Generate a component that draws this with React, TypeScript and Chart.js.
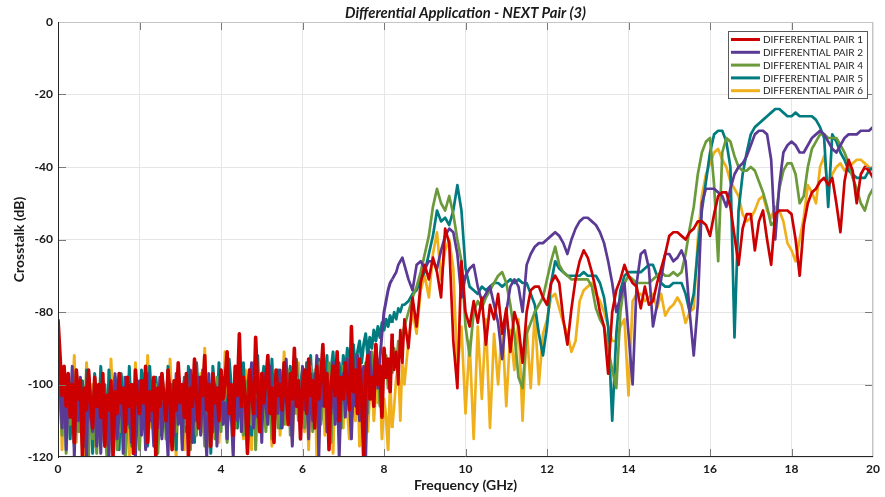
import { useEffect, useRef } from "react";
import { Chart, registerables } from "chart.js";

Chart.register(...registerables);

// ---- Data ----
const titleText = "Differential Application - NEXT Pair (3)";
const xTitle = "Frequency (GHz)";
const yTitle = "Crosstalk (dB)";
const xTickValues = [0, 2, 4, 6, 8, 10, 12, 14, 16, 18, 20];
const yTickValues = [-120, -100, -80, -60, -40, -20, 0];

const seriesNames = [
  "DIFFERENTIAL PAIR 1",
  "DIFFERENTIAL PAIR 2",
  "DIFFERENTIAL PAIR 4",
  "DIFFERENTIAL PAIR 5",
  "DIFFERENTIAL PAIR 6",
];
const seriesColors = ["#CC0000", "#5B3A96", "#6B9A3B", "#007B7F", "#F0B01C"];

// sampling grids (GHz): 0.00..8.45 every 0.05, 8.5..20.0 every 0.1
const lowStart = 0, lowStep = 0.05, lowCount = 170;
const highStart = 8.5, highStep = 0.1, highCount = 116;

// DIFFERENTIAL PAIR 1 (red)
const pair1Low = [
  -82, -92, -103, -95, -106, -97, -109, -100, -116, -96,
  -104, -99, -120, -101, -107, -96, -105, -112, -98, -106,
  -100, -109, -97, -117, -103, -107, -99, -120, -102, -108,
  -97, -105, -101, -113, -98, -106, -100, -119, -96, -104,
  -108, -99, -105, -95, -116, -102, -107, -98, -120, -101,
  -106, -97, -104, -110, -96, -103, -118, -99, -107, -94,
  -105, -100, -109, -97, -120, -101, -106, -93, -104, -112,
  -98, -103, -92, -107, -100, -117, -97, -105, -101, -110,
  -96, -104, -99, -91, -108, -100, -114, -95, -103, -86,
  -106, -98, -104, -119, -96, -102, -108, -87, -101, -113,
  -97, -105, -99, -92, -108, -101, -116, -96, -103, -100,
  -107, -94, -102, -111, -97, -104, -90, -106, -99, -115,
  -101, -96, -108, -93, -103, -99, -112, -95, -104, -98,
  -89, -106, -97, -118, -100, -95, -103, -91, -110, -98,
  -104, -94, -100, -107, -84, -102, -96, -108, -93, -103,
  -120, -97, -92, -104, -98, -106, -89, -100, -95, -109,
  -90, -98, -93, -102, -86, -96, -91, -100, -85, -94,
];
const pair1High = [
  -82, -90, -76, -84, -72, -67, -71, -65, -69, -76,
  -57, -61, -88, -101, -66, -80, -84, -77, -83, -76,
  -89, -78, -82, -75, -86, -79, -91, -80, -84, -94,
  -80, -74, -73, -73, -76, -78, -72, -70, -72, -82,
  -89, -79, -71, -66, -63, -65, -69, -74, -80, -84,
  -97, -80, -74, -71, -67, -70, -72, -73, -79, -73,
  -78, -77, -72, -68, -64, -59, -58, -58, -59, -60,
  -58, -57, -55, -55, -56, -59, -53, -48, -47, -47,
  -51, -59, -67, -57, -53, -53, -63, -55, -52, -60,
  -67, -53, -52, -52, -52, -53, -60, -70, -56, -50,
  -47, -46, -44, -43, -45, -43, -50, -58, -44, -38,
  -41, -50, -42, -40, -41, -43,
];

// DIFFERENTIAL PAIR 2 (purple)
const pair2Low = [
  -86, -100, -112, -96, -118, -103, -108, -95, -120, -101,
  -110, -98, -115, -104, -120, -97, -109, -113, -100, -117,
  -104, -119, -99, -110, -106, -120, -101, -112, -97, -115,
  -108, -102, -119, -98, -111, -105, -116, -100, -120, -107,
  -99, -114, -103, -118, -97, -110, -106, -117, -101, -112,
  -98, -115, -105, -109, -120, -100, -108, -114, -97, -111,
  -103, -118, -99, -107, -112, -96, -116, -104, -110, -98,
  -114, -101, -109, -120, -97, -106, -113, -100, -117, -103,
  -96, -111, -105, -115, -99, -108, -120, -95, -110, -102,
  -113, -98, -107, -118, -101, -94, -112, -104, -109, -99,
  -116, -97, -106, -111, -95, -103, -114, -100, -108, -96,
  -112, -101, -93, -109, -104, -117, -98, -106, -100, -113,
  -95, -107, -102, -115, -97, -110, -104, -92, -120, -99,
  -106, -96, -113, -101, -108, -94, -111, -98, -120, -103,
  -97, -109, -93, -104, -115, -99, -106, -92, -110, -100,
  -95, -120, -98, -91, -104, -96, -89, -101, -93, -86,
  -80, -77, -74, -72, -71, -70, -69, -67, -66, -65,
];
const pair2High = [
  -67, -71, -74, -67, -66, -68, -66, -66, -68, -63,
  -59, -57, -58, -64, -76, -70, -68, -67, -73, -77,
  -75, -73, -78, -83, -93, -80, -73, -71, -73, -80,
  -67, -64, -62, -61, -61, -60, -59, -58, -59, -61,
  -64, -60, -57, -55, -54, -54, -55, -56, -58, -61,
  -66, -72, -80, -76, -72, -86, -100, -72, -64, -63,
  -68, -84, -78, -71, -64, -64, -66, -65, -63, -66,
  -80, -92, -78, -50, -46, -46, -46, -47, -48, -51,
  -46, -42, -40, -39, -37, -34, -31, -30, -30, -31,
  -38, -60, -45, -36, -34, -33, -34, -36, -36, -34,
  -32, -31, -30, -31, -33, -35, -36, -34, -32, -31,
  -31, -31, -30, -30, -30, -29,
];

// DIFFERENTIAL PAIR 4 (green)
const pair4Low = [
  -90, -104, -114, -99, -119, -106, -111, -100, -117, -103,
  -113, -101, -118, -107, -110, -120, -102, -115, -108, -119,
  -105, -116, -100, -112, -120, -104, -109, -114, -101, -118,
  -107, -113, -103, -120, -110, -100, -117, -106, -112, -102,
  -118, -105, -111, -99, -116, -108, -103, -114, -100, -119,
  -107, -112, -101, -115, -104, -110, -117, -99, -113, -106,
  -102, -116, -108, -111, -100, -118, -105, -109, -114, -101,
  -110, -104, -117, -99, -112, -107, -103, -115, -98, -109,
  -113, -101, -106, -116, -100, -110, -104, -112, -97, -108,
  -102, -114, -99, -109, -105, -111, -96, -118, -103, -107,
  -110, -98, -113, -104, -100, -115, -106, -97, -112, -103,
  -99, -111, -105, -96, -114, -101, -108, -98, -110, -104,
  -97, -112, -102, -108, -95, -113, -100, -106, -94, -111,
  -103, -98, -109, -94, -116, -101, -96, -107, -99, -112,
  -95, -105, -100, -93, -110, -98, -104, -92, -107, -97,
  -102, -94, -108, -96, -91, -104, -99, -93, -106, -95,
  -98, -92, -101, -94, -97, -90, -95, -88, -91, -86,
];
const pair4High = [
  -84, -80, -76, -73, -69, -64, -59, -51, -46, -50,
  -52, -48, -53, -60, -66, -84, -92, -80, -77, -79,
  -76, -74, -72, -70, -69, -72, -78, -86, -98, -101,
  -86, -83, -80, -78, -76, -71, -66, -62, -67, -69,
  -70, -71, -71, -71, -71, -71, -73, -79, -82, -84,
  -90, -96, -101, -80, -72, -70, -71, -72, -72, -72,
  -72, -71, -70, -69, -70, -70, -69, -70, -69, -64,
  -57, -51, -42, -36, -33, -32, -45, -66, -36, -32,
  -33, -37, -40, -41, -41, -40, -41, -44, -47, -51,
  -56, -55, -46, -41, -39, -39, -42, -50, -48, -40,
  -35, -33, -31, -31, -32, -32, -32, -34, -36, -39,
  -43, -46, -50, -52, -48, -46,
];

// DIFFERENTIAL PAIR 5 (teal)
const pair5Low = [
  -88, -97, -108, -100, -112, -98, -115, -102, -110, -96,
  -105, -113, -99, -117, -96, -108, -103, -119, -97, -106,
  -111, -95, -109, -100, -116, -96, -107, -113, -98, -104,
  -118, -97, -106, -101, -112, -95, -109, -115, -99, -103,
  -113, -96, -107, -100, -117, -95, -105, -111, -98, -104,
  -114, -97, -103, -109, -95, -112, -100, -106, -118, -96,
  -104, -110, -98, -113, -95, -107, -101, -116, -94, -103,
  -109, -96, -112, -99, -105, -119, -95, -102, -108, -94,
  -111, -98, -104, -115, -93, -100, -107, -96, -112, -99,
  -105, -94, -110, -101, -96, -114, -99, -104, -92, -108,
  -100, -95, -111, -98, -104, -93, -109, -101, -96, -112,
  -99, -94, -107, -102, -95, -110, -98, -93, -105, -100,
  -96, -108, -94, -101, -92, -106, -97, -103, -93, -110,
  -95, -100, -92, -107, -96, -91, -103, -98, -94, -102,
  -92, -97, -90, -101, -94, -89, -96, -91, -88, -94,
  -89, -86, -92, -87, -90, -85, -88, -84, -87, -83,
  -85, -82, -84, -81, -83, -80, -82, -79, -80, -78,
];
const pair5High = [
  -78, -77, -75, -74, -71, -69, -64, -59, -52, -55,
  -54, -56, -52, -45, -52, -68, -73, -74, -75, -73,
  -74, -73, -72, -72, -73, -72, -71, -72, -71, -72,
  -72, -75, -78, -86, -92, -84, -72, -66, -68, -69,
  -70, -70, -70, -70, -69, -70, -70, -70, -72, -76,
  -84, -110, -86, -74, -70, -69, -69, -69, -69, -68,
  -67, -67, -70, -72, -73, -73, -72, -72, -72, -75,
  -80, -75, -63, -52, -44, -36, -31, -30, -30, -33,
  -40, -87, -52, -42, -36, -31, -29, -28, -27, -26,
  -25, -24, -24, -25, -26, -26, -25, -26, -26, -26,
  -26, -27, -29, -32, -51, -31, -33, -36, -38, -41,
  -42, -43, -43, -43, -41, -40,
];

// DIFFERENTIAL PAIR 6 (yellow)
const pair6Low = [
  -84, -98, -118, -101, -113, -97, -109, -105, -92, -116,
  -102, -111, -99, -120, -94, -107, -113, -100, -117, -103,
  -108, -96, -115, -101, -110, -119, -93, -106, -112, -99,
  -116, -104, -98, -111, -107, -120, -100, -109, -94, -114,
  -103, -110, -97, -117, -92, -106, -112, -100, -119, -105,
  -99, -113, -108, -102, -116, -93, -107, -111, -120, -101,
  -110, -104, -118, -98, -112, -106, -100, -115, -103, -109,
  -97, -113, -90, -107, -117, -101, -105, -111, -99, -116,
  -104, -109, -91, -114, -102, -107, -119, -98, -112, -100,
  -108, -115, -96, -103, -110, -118, -94, -105, -101, -113,
  -99, -107, -112, -95, -104, -117, -100, -109, -97, -114,
  -103, -91, -111, -106, -99, -116, -102, -108, -94, -110,
  -105, -113, -98, -118, -101, -109, -96, -120, -104, -107,
  -100, -114, -95, -111, -103, -119, -97, -106, -109, -101,
  -112, -94, -107, -115, -99, -104, -110, -96, -117, -102,
  -108, -97, -113, -103, -94, -110, -101, -105, -98, -115,
  -104, -109, -118, -100, -112, -106, -98, -95, -110, -93,
];
const pair6High = [
  -100, -88, -80, -86, -74, -70, -76, -64, -58, -71,
  -63, -60, -68, -96, -84, -108, -88, -115, -84, -104,
  -82, -112, -86, -100, -83, -106, -85, -96, -82, -110,
  -84, -101, -80, -100, -86, -82, -76, -75, -79, -83,
  -86, -91, -88, -77, -74, -73, -72, -75, -77, -80,
  -84, -88, -88, -84, -82, -103, -77, -75, -75, -77,
  -76, -75, -79, -75, -81, -79, -78, -76, -78, -83,
  -80, -79, -60, -48, -42, -39, -36, -35, -38, -40,
  -44, -46, -48, -53, -55, -54, -52, -49, -48, -52,
  -54, -51, -52, -55, -61, -63, -66, -60, -54, -45,
  -47, -50, -40, -37, -46, -42, -40, -39, -41, -40,
  -39, -38, -38, -39, -40, -41,
];

const seriesValues = [
  pair1Low.concat(pair1High),
  pair2Low.concat(pair2High),
  pair4Low.concat(pair4High),
  pair5Low.concat(pair5High),
  pair6Low.concat(pair6High),
];

const freqs: number[] = [];
for (let i = 0; i < lowCount; i++) freqs.push(+(lowStart + i * lowStep).toFixed(2));
for (let i = 0; i < highCount; i++) freqs.push(+(highStart + i * highStep).toFixed(2));

const FONT = "Lato, 'Open Sans', 'Liberation Sans', sans-serif";

const framePlugin = {
  id: "frameAndLegend",
  afterDraw(chart: any) {
    const { ctx, chartArea, scales } = chart;
    const { left, right, top, bottom } = chartArea;
    ctx.save();
    const seg = (x1: number, y1: number, x2: number, y2: number) => {
      ctx.beginPath();
      ctx.moveTo(x1, y1);
      ctx.lineTo(x2, y2);
      ctx.stroke();
    };
    const tl = 8;
    ctx.lineWidth = 1;
    ctx.strokeStyle = "#7a7a7a";
    xTickValues.forEach((v) => {
      if (v <= 0 || v >= 20) return;
      const px = Math.round(scales.x.getPixelForValue(v)) + 0.5;
      seg(px, top, px, top + tl);
      seg(px, bottom, px, bottom - tl);
    });
    yTickValues.forEach((v) => {
      if (v <= -120 || v >= 0) return;
      const py = Math.round(scales.y.getPixelForValue(v)) + 0.5;
      seg(left, py, left + tl, py);
      seg(right, py, right - tl, py);
    });
    // light top/right frame
    ctx.strokeStyle = "#c4c4c4";
    seg(left, top + 0.5, right, top + 0.5);
    seg(right - 0.5, top, right - 0.5, bottom);
    // dark left/bottom axes
    ctx.strokeStyle = "#262626";
    seg(left + 0.5, top, left + 0.5, bottom + 1);
    seg(left, bottom - 0.5, right, bottom - 0.5);

    // title
    ctx.fillStyle = "#1a1a1a";
    ctx.font = `italic bold 14.8px ${FONT}`;
    ctx.textAlign = "center";
    ctx.textBaseline = "middle";
    ctx.fillText(titleText, (left + right) / 2, 13.5);

    // legend
    ctx.font = `10px ${FONT}`;
    const textW = Math.max(...seriesNames.map((n) => ctx.measureText(n).width));
    const boxRight = 867;
    const boxTop = 31;
    const rowH = 12.8;
    const sampleW = 29;
    const boxW = 3 + sampleW + 3 + textW + 4;
    const boxH = rowH * seriesNames.length + 3;
    const boxLeft = boxRight - boxW;
    ctx.fillStyle = "#ffffff";
    ctx.fillRect(boxLeft, boxTop, boxW, boxH);
    ctx.strokeStyle = "#5a5a5a";
    ctx.strokeRect(Math.round(boxLeft) + 0.5, boxTop + 0.5, Math.round(boxW), Math.round(boxH));
    ctx.textAlign = "left";
    ctx.textBaseline = "middle";
    seriesNames.forEach((name, i) => {
      const cy = boxTop + 8.5 + i * rowH;
      ctx.strokeStyle = seriesColors[i];
      ctx.lineWidth = 3;
      seg(boxLeft + 3, cy, boxLeft + 3 + sampleW, cy);
      ctx.fillStyle = "#222222";
      ctx.fillText(name, boxLeft + 3 + sampleW + 3, cy + 0.5);
    });
    ctx.restore();
  },
};

export default function App() {
  const ref = useRef<HTMLCanvasElement | null>(null);
  useEffect(() => {
    if (!ref.current) return;
    const datasets = seriesNames.map((name, si) => ({
      label: name,
      data: freqs.map((f, i) => ({ x: f, y: seriesValues[si][i] })),
      borderColor: seriesColors[si],
      backgroundColor: seriesColors[si],
      borderWidth: 2.7,
      pointRadius: 0,
      tension: 0,
      fill: false,
      borderJoinStyle: "round" as const,
      segment: {
        // the dense measured noise floor reads as a heavier trace
        borderWidth: (c: any) => (c.p1.parsed.x <= 8.2 ? (si === 0 ? 3.6 : 3.0) : undefined),
      },
    }));
    const tickFont = { family: FONT, size: 12, weight: "bold" as const };
    const titleFont = { family: FONT, size: 14, weight: "bold" as const };
    const chart = new Chart(ref.current, {
      type: "line",
      data: { datasets },
      options: {
        responsive: false,
        animation: false,
        events: [],
        layout: { padding: { left: 0, right: 7, top: 22, bottom: 0 } },
        plugins: {
          legend: { display: false },
          title: { display: false },
          tooltip: { enabled: false },
        },
        scales: {
          x: {
            type: "linear",
            min: 0,
            max: 20,
            afterBuildTicks: (s: any) => {
              s.ticks = xTickValues.map((v) => ({ value: v }));
            },
            afterFit: (s: any) => {
              s.height = 40;
            },
            grid: { color: "#e6e6e6", drawTicks: false, lineWidth: 1 },
            border: { display: false },
            ticks: {
              padding: 5,
              font: tickFont,
              color: "#1a1a1a",
              maxRotation: 0,
              autoSkip: false,
            },
            title: {
              display: true,
              text: xTitle,
              font: titleFont,
              color: "#1a1a1a",
              padding: { top: 0, bottom: 3.6 },
            },
          },
          y: {
            type: "linear",
            min: -120,
            max: 0,
            afterBuildTicks: (s: any) => {
              s.ticks = yTickValues.map((v) => ({ value: v }));
            },
            afterFit: (s: any) => {
              s.width = 58;
            },
            grid: { color: "#e6e6e6", drawTicks: false, lineWidth: 1 },
            border: { display: false },
            ticks: {
              padding: 5,
              font: tickFont,
              color: "#1a1a1a",
              autoSkip: false,
            },
            title: {
              display: true,
              text: yTitle,
              font: titleFont,
              color: "#1a1a1a",
              padding: { top: 10.6, bottom: 0 },
            },
          },
        },
      },
      plugins: [framePlugin],
    });
    return () => chart.destroy();
  }, []);
  return (
    <div style={{ position: "fixed", left: 0, top: 0, width: 885, height: 497, background: "#fff" }}>
      <canvas ref={ref} width={885} height={497} style={{ display: "block" }} />
    </div>
  );
}
